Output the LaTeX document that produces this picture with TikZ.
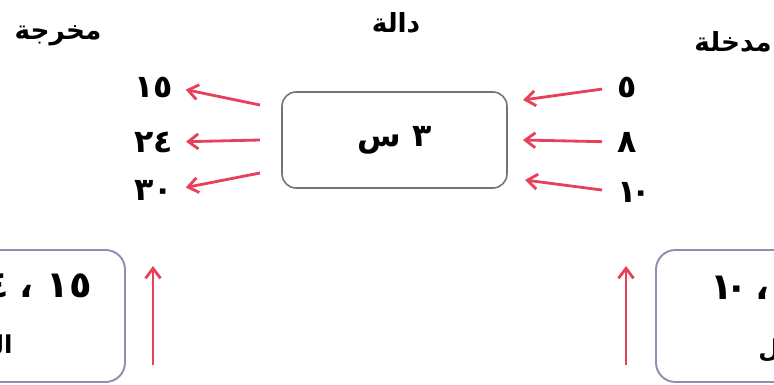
\documentclass[tikz,border=0pt]{standalone}
\usepackage{fontspec}
\newfontfamily\arabicfont[Script=Arabic]{DejaVu Sans}
\TeXXeTstate=1
\usetikzlibrary{arrows.meta,positioning}

\definecolor{arrowred}{RGB}{230,64,90}
\definecolor{funcgray}{RGB}{115,115,115}
\definecolor{setpurple}{RGB}{150,140,178}

\begin{document}
\begin{tikzpicture}[
    x=0.02cm, y=-0.02cm,
    every node/.style={inner sep=0pt},
    lbl/.style={font=\arabicfont\bfseries\fontsize{15}{18}\selectfont},
    num/.style={font=\arabicfont\bfseries\fontsize{18}{20}\selectfont},
    funcbox/.style={rectangle, draw=funcgray, line width=0.9pt, rounded corners=8pt, minimum width=4.5cm, minimum height=1.92cm, font=\arabicfont\bfseries\fontsize{18}{20}\selectfont},
    setbox/.style={rectangle, draw=setpurple, line width=1.1pt, rounded corners=11pt, minimum width=5cm, minimum height=2.64cm},
    settext/.style={font=\arabicfont\bfseries\fontsize{21}{24}\selectfont},
    setname/.style={font=\arabicfont\bfseries\fontsize{14}{16}\selectfont},
    arrow/.style={-{Straight Barb[length=2mm, width=3mm]}, line width=1.6pt, draw=arrowred}
]
    \useasboundingbox (0,0) rectangle (774,385);
    \clip (0,0) rectangle (774,385);

    % titles
    \node [lbl] (outlbl) at (58,36) {\beginR مخرجة\endR};
    \node [lbl] (funclbl) at (396,23) {\beginR دالة\endR};
    \node [lbl] (inlbl) at (733,42) {\beginR مدخلة\endR};

    % function box
    \node [funcbox] (func) at (394.5,140) {\beginR ٣ س\endR};

    % inputs and outputs
    \node [num, anchor=west] (in1) at (617,87) {٥};
    \node [num, anchor=west] (in2) at (617,142) {٨};
    \node [num, anchor=west] (in3) at (617,192) {١\kern-3pt٠};
    \node [num, anchor=east] (out1) at (173,87) {١٥};
    \node [num, anchor=east] (out2) at (173,142) {٢٤};
    \node [num, anchor=east] (out3) at (173,190) {٣٠};

    \coordinate (fin1) at (523,100);
    \coordinate (fin2) at (523,140);
    \coordinate (fin3) at (525,180);
    \coordinate (fout1) at (260,105);
    \coordinate (fout2) at (260,140);
    \coordinate (fout3) at (260,173);

    \draw [arrow, shorten <=0.3cm] (in1.west) -- (fin1);
    \draw [arrow, shorten <=0.3cm] (in2.west) -- (fin2);
    \draw [arrow, shorten <=0.3cm] (in3.west) -- (fin3);
    \draw [arrow, shorten >=0.26cm] (fout1) -- (out1.east);
    \draw [arrow, shorten >=0.26cm] (fout2) -- (out2.east);
    \draw [arrow, shorten >=0.26cm] (fout3) -- (out3.east);

    % range and domain boxes
    \node [setbox] (range) at (0,316) {};
    \node [setbox] (domain) at (781,316) {};
    \node [settext, anchor=east] (rangeset) at (92,286) {\beginR ١٥ ،\kern6pt٢٤ ،\kern6pt٣٠\endR};
    \node [setname, anchor=east] (rangename) at (13,345) {\beginR المدى\endR};
    \node [settext, anchor=west] (domainset) at (710,288) {\beginR ٥ ،\kern6pt٨ ،\kern4pt\beginL١\kern-4pt٠\endL\endR};
    \node [setname, anchor=west] (domainname) at (758,350) {\beginR المجال\endR};

    \coordinate (rangefoot) at (153,365);
    \coordinate (rangetip) at (153,266);
    \coordinate (domainfoot) at (626,365);
    \coordinate (domaintip) at (626,266);
    \draw [arrow] (rangefoot) -- (rangetip);
    \draw [arrow] (domainfoot) -- (domaintip);
\end{tikzpicture}
\end{document}
